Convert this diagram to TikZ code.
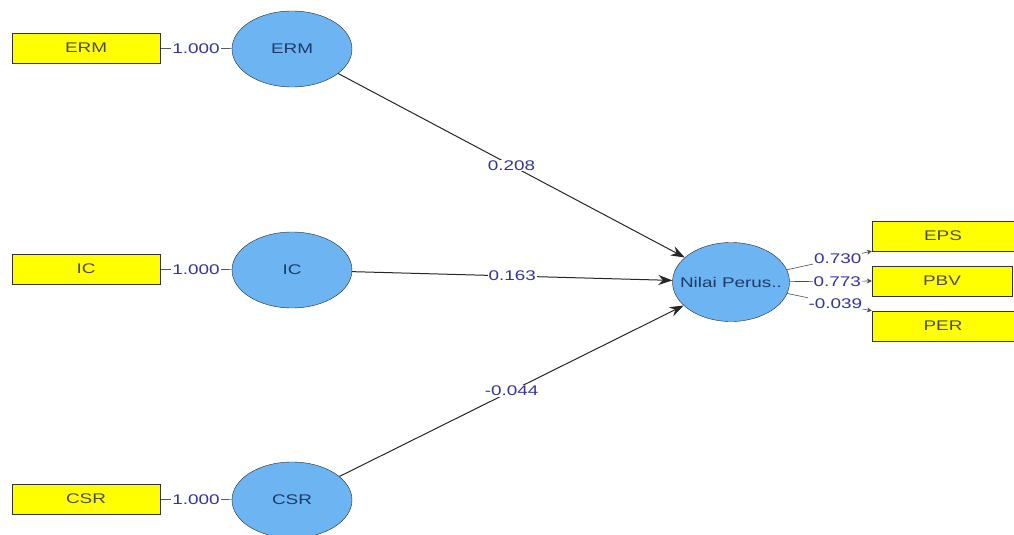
\documentclass[tikz,border=0pt]{standalone}
\usepackage{fontspec}
\setmainfont[FakeStretch=1.35]{Liberation Sans}
\usetikzlibrary{shapes.geometric,arrows.meta}
\definecolor{lvblue}{HTML}{6CB4F2}
\definecolor{lvtext}{HTML}{1F3A68}
\definecolor{coefblue}{HTML}{34349E}
\definecolor{boxyellow}{HTML}{FFFF00}
\tikzset{
  indicator/.style={draw=black!80, fill=boxyellow, inner sep=0pt, minimum height=30pt,
    text=black!70, font=\fontsize{14}{16}\selectfont},
  latent/.style={ellipse, draw=black!85, fill=lvblue, inner sep=0pt,
    text=lvtext, font=\fontsize{14}{16}\selectfont},
  coef/.style={fill=white, inner sep=1pt, text=coefblue, font=\fontsize{14}{16}\selectfont},
  path/.style={draw=black!85, line width=1pt, -{Stealth[length=14pt,width=10pt]}},
  loading/.style={draw=black!70, line width=0.6pt, -{Stealth[length=5pt,width=5pt]}}
}
\begin{document}
\begin{tikzpicture}[x=1pt,y=-1pt]
  \useasboundingbox (0,0) rectangle (1014,535);
  % Exogenous constructs and their indicators
  \foreach \lv/\yy in {ERM/48, IC/269, CSR/499}
  {
    \node[indicator, minimum width=148pt] (\lv box) at (86,\yy) {\lv};
    \node[latent, minimum width=120pt, minimum height=76pt] (\lv) at (292,\yy+1) {\lv};
    \draw (\lv box) -- (\lv) node[coef, midway] {1.000};
  }
  % Endogenous construct
  \node[latent, minimum width=117pt, minimum height=79pt] (nilai) at (731,282) {\makebox[0pt]{Nilai Perus..}};
  % Its indicators
  \node[indicator, minimum width=142pt] (eps) at (943,236) {EPS};
  \node[indicator, minimum width=140pt] (pbv) at (942,281) {PBV};
  \node[indicator, minimum width=142pt] (per) at (943,326) {PER};
  % Inner model paths
  \draw[path] (ERM) -- (nilai) node[coef, midway] {0.208};
  \draw[path] (IC) -- (nilai) node[coef, midway] {0.163};
  \draw[path] (CSR) -- (nilai) node[coef, midway] {-0.044};
  % Outer loadings
  \draw[loading] (nilai) -- (eps.south west) node[coef, pos=0.6] {0.730};
  \draw[loading] (nilai) -- (pbv.west) node[coef, pos=0.58] {0.773};
  \draw[loading] (nilai) -- (per.north west) node[coef, pos=0.57] {-0.039};
\end{tikzpicture}
\end{document}
